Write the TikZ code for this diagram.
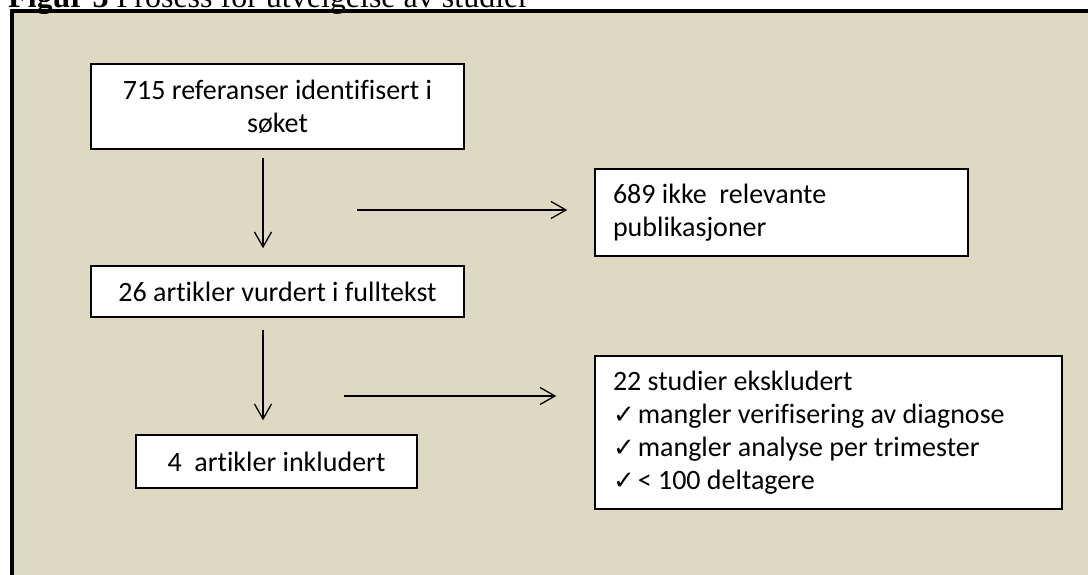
\documentclass[tikz,border=0pt]{standalone}
\usepackage{fontspec}
\setmainfont{Carlito}[Ligatures=NoCommon,RawFeature=-liga]
\newfontfamily\titlefont{Liberation Serif}
\newfontfamily\symfont{DejaVu Sans}
\usetikzlibrary{arrows.meta,calc}
\definecolor{tanbg}{RGB}{221,217,195}
\newcommand{\ckmark}{{\symfont\fontsize{26}{28}\selectfont ✓}\hspace{3pt}}
\begin{document}
\begin{tikzpicture}[x=1pt,y=-1pt,
  box/.style={draw=black, line width=1.4pt, fill=white, inner sep=0pt, font=\fontsize{28}{33}\selectfont},
  arr/.style={line width=1.3pt, -{Straight Barb[length=15pt,width=17pt,line width=1.3pt]}}]
\useasboundingbox (0,0) rectangle (1088,575);
\clip (0,0) rectangle (1088,575);
\fill[tanbg] (12,11) rectangle (1100,590);
\draw[line width=4pt] (12,590) -- (12,11) -- (1100,11);
\node[anchor=base west, font=\titlefont\fontsize{32}{38}\selectfont, inner sep=0pt] (title) at (8,7.5) {\textbf{Figur 3} Prosess for utvelgelse av studier};
\node[box, minimum width=373pt, minimum height=85pt, align=center] (b1) at (277.5,106.5) {715 referanser identifisert i\\søket};
\node[box, minimum width=373pt, minimum height=51pt] (b2) at (277.5,291.5) {26 artikler vurdert i fulltekst};
\node[box, minimum width=281pt, minimum height=53pt] (b4) at (276.5,461.5) {4\ \ artikler inkludert};
\node[box, text width=337pt, inner xsep=18pt, minimum height=87pt, align=flush left] (b3) at (781.5,212.5) {689 ikke\ \ relevante\\publikasjoner};
\node[box, text width=431pt, inner xsep=18pt, minimum height=153pt, align=flush left] (b5) at (828.5,432.5) {22 studier ekskludert\\\ckmark mangler verifisering av diagnose\\\ckmark mangler analyse per trimester\\\ckmark < 100 deltagere};
\draw[arr] ([xshift=-14.5pt,yshift=-8pt]b1.south) -- ([xshift=-14.5pt,yshift=17pt]b2.north);
\draw[arr] ([xshift=-14.5pt,yshift=-12pt]b2.south) -- ([xshift=-13.5pt,yshift=14pt]b4.north);
\coordinate (h1) at (357,210);
\coordinate (h2) at (344,396);
\draw[arr] (h1) -- ($(h1 -| b3.west)+(-27,0)$);
\draw[arr] (h2) -- ($(h2 -| b5.west)+(-38,0)$);
\end{tikzpicture}
\end{document}
